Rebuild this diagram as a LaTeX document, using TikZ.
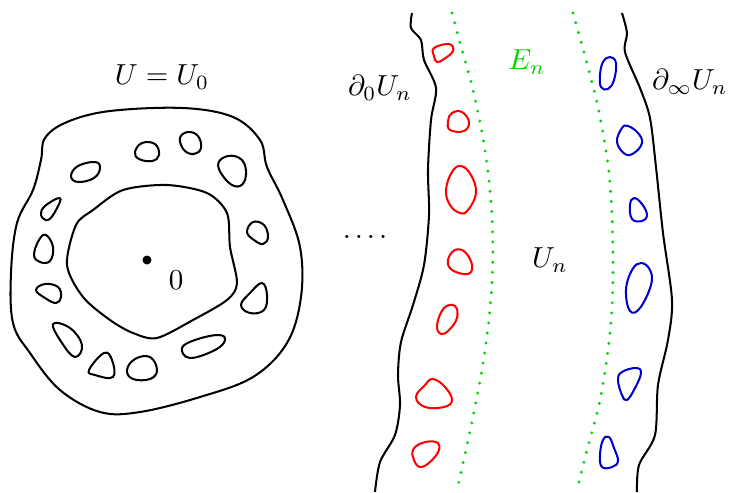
\documentclass[tikz,border=0pt]{standalone}
\begin{document}
\begin{tikzpicture}[x=0.345pt,y=-0.345pt,
  curve/.style={line width=0.7pt,line join=round},
  hole/.style={curve,smooth cycle,tension=0.7},
  gdot/.style={color=myGreen,line width=1.1pt,line cap=round,dash pattern=on 0pt off 3.5pt}]
\definecolor{myGreen}{RGB}{0,210,0}
\definecolor{myBlue}{RGB}{0,0,205}
\useasboundingbox (0,0) rectangle (729,492);
% outer boundary
\draw[curve] plot[smooth cycle,tension=0.6] coordinates {(41,160)(45,138)(67,122)(110,111)(183,108)(233,117)(260,140)(267,167)(283,200)(300,247)(301,297)(287,343)(253,377)(200,397)(140,412)(100,412)(60,390)(30,353)(13,323)(11,273)(17,223)(33,190)};
% inner boundary
\draw[curve] plot[smooth cycle,tension=0.5] coordinates {(67,265)(76,225)(93,210)(123,190)(167,185)(207,193)(227,213)(230,247)(237,283)(227,300)(193,320)(157,338)(133,333)(110,320)(83,297)};
% holes
\draw[curve] plot[hole] coordinates {(135,152)(142,143)(155,144)(159,155)(152,161)(139,159)};
\draw[curve] plot[hole] coordinates {(180,138)(188,132)(198,136)(201,148)(194,154)(184,150)};
\draw[curve] plot[hole] coordinates {(218,165)(228,156)(242,160)(246,175)(240,186)(228,182)};
\draw[curve] plot[hole] coordinates {(71,176)(78,166)(95,162)(100,168)(94,178)(78,182)};
\draw[curve] plot[hole] coordinates {(60,198)(56,210)(48,220)(41,215)(45,206)};
\draw[curve] plot[hole] coordinates {(34,255)(39,240)(46,235)(53,247)(50,261)(40,262)};
\draw[curve] plot[hole] coordinates {(247,232)(253,222)(264,225)(268,237)(263,244)(254,240)};
\draw[curve] plot[hole] coordinates {(36,290)(45,284)(58,287)(61,297)(56,303)(45,298)};
\draw[curve] plot[hole] coordinates {(241,305)(250,293)(262,283)(267,295)(264,310)(250,313)};
\draw[curve] plot[hole] coordinates {(53,324)(70,328)(82,345)(75,357)(62,343)};
\draw[curve] plot[hole] coordinates {(89,370)(104,353)(112,360)(113,377)(95,375)};
\draw[curve] plot[hole] coordinates {(127,370)(135,359)(150,357)(157,370)(150,379)(133,379)};
\draw[curve] plot[hole] coordinates {(182,348)(195,340)(218,335)(225,340)(215,350)(190,358)};
% center point
\fill (147,260) circle[radius=4.5];
\node (zero) at (176,280) {$0$};
\node (U0) at (162,77) {$U=U_0$};
\node (dots) at (365,237) {.\kern0.14em.\kern0.14em.\kern0.14em.};
% left wavy boundary
\draw[curve] plot[smooth,tension=0.5] coordinates {(412,13)(411,28)(421,40)(424,60)(436,88)(431,120)(428,170)(429,215)(424,265)(413,305)(401,342)(398,375)(400,405)(395,435)(380,462)(375,492)};
% right wavy boundary
\draw[curve] plot[smooth,tension=0.5] coordinates {(622,13)(627,33)(625,52)(640,88)(650,118)(656,167)(663,233)(672,300)(668,340)(658,385)(655,435)(639,465)(637,492)};
% green dotted
\draw[gdot] plot[smooth,tension=0.6] coordinates {(452,13)(460,43)(473,90)(485,150)(492,217)(492,283)(485,350)(473,417)(457,490)};
\draw[gdot] plot[smooth,tension=0.6] coordinates {(573,13)(588,67)(600,117)(610,183)(613,267)(610,333)(600,400)(587,450)(577,490)};
% red holes
\begin{scope}[red]
\draw[curve] plot[hole] coordinates {(434,48)(449,44)(453,51)(444,59)(437,62)(434,56)};
\draw[curve] plot[hole] coordinates {(448,121)(452,113)(462,112)(469,122)(464,131)(450,130)};
\draw[curve] plot[hole] coordinates {(446,190)(452,172)(461,166)(471,175)(476,193)(468,210)(460,213)(450,205)};
\draw[curve] plot[hole] coordinates {(448,260)(455,250)(465,252)(472,265)(468,274)(452,270)};
\draw[curve] plot[hole] coordinates {(437,325)(444,308)(455,306)(457,318)(449,330)(441,334)};
\draw[curve] plot[hole] coordinates {(416,397)(425,385)(433,379)(445,387)(452,400)(444,407)(425,407)};
\draw[curve] plot[hole] coordinates {(413,450)(422,443)(436,442)(439,450)(430,462)(420,467)(414,460)};
\end{scope}
% blue holes
\begin{scope}[myBlue]
\draw[curve] plot[hole] coordinates {(600,75)(603,62)(610,57)(616,63)(614,80)(608,89)(601,87)};
\draw[curve] plot[hole] coordinates {(617,142)(622,128)(628,126)(638,133)(642,143)(634,153)(625,154)};
\draw[curve] plot[hole] coordinates {(630,205)(634,198)(642,204)(647,215)(642,221)(632,219)};
\draw[curve] plot[hole] coordinates {(626,290)(632,270)(641,263)(650,270)(651,285)(640,308)(630,311)};
\draw[curve] plot[hole] coordinates {(618,380)(622,372)(636,368)(641,373)(635,388)(627,400)(622,395)};
\draw[curve] plot[hole] coordinates {(600,455)(603,440)(609,437)(614,448)(618,461)(612,467)(602,467)};
\end{scope}
% labels
\node (d0) at (380,88) {$\partial_0 U_n$};
\node[text=myGreen] (En) at (527,62) {$E_n$};
\node (dinf) at (690,82) {$\partial_\infty U_n$};
\node (Un) at (550,260) {$U_n$};
\end{tikzpicture}
\end{document}
